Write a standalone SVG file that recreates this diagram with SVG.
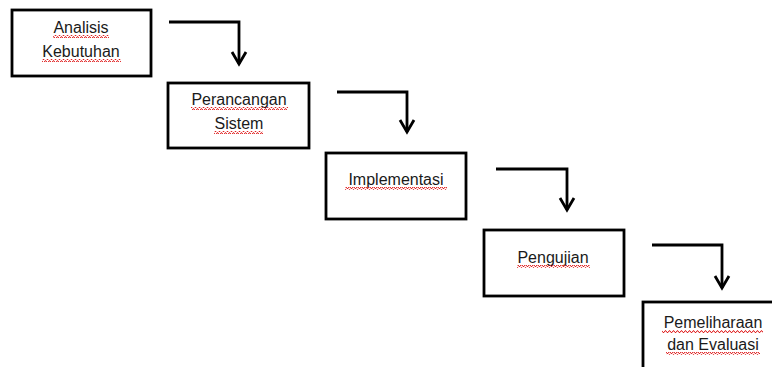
<svg xmlns="http://www.w3.org/2000/svg" width="772" height="367" viewBox="0 0 772 367">
<style>
.box{fill:#fff;stroke:#000;stroke-width:2.8}
.lbl{font-family:"Liberation Sans",Arial,sans-serif;font-size:16px;fill:#1a1a1a;text-anchor:middle}
.con{fill:none;stroke:#000;stroke-width:2.8;stroke-linejoin:miter}
.sq{fill:url(#squig)}
</style>
<defs>
<pattern id="squig" width="4" height="3" patternUnits="userSpaceOnUse">
<path d="M0,2.5 L1,0.8 L2,0.8 L3,2.5 L4,2.5" fill="none" stroke="#e02020" stroke-width="1"/>
</pattern>
<marker id="chev" markerUnits="userSpaceOnUse" markerWidth="20" markerHeight="20" refX="0" refY="0" orient="auto" overflow="visible">
<path d="M-12,-7 L0,0 L-12,7" fill="none" stroke="#000" stroke-width="2.8" stroke-linejoin="miter"/>
</marker>
</defs>
<rect width="772" height="367" fill="#fff"/>
<g id="connectors">
<path class="con" d="M169,22 H239 V64" marker-end="url(#chev)"/>
<path class="con" d="M337,92 H407 V132" marker-end="url(#chev)"/>
<path class="con" d="M496,169 H567 V210" marker-end="url(#chev)"/>
<path class="con" d="M652,245 H722 V288" marker-end="url(#chev)"/>
</g>
<g id="analisis">
<rect class="box" x="12" y="10" width="139" height="66"/>
<text class="lbl" x="81" y="33">Analisis</text>
<text class="lbl" x="81" y="57">Kebutuhan</text>
<rect class="sq" x="53" y="35" width="56" height="3"/>
<rect class="sq" x="42" y="59" width="79" height="3"/>
</g>
<g id="perancangan">
<rect class="box" x="168" y="83" width="141" height="65"/>
<text class="lbl" x="239" y="105">Perancangan</text>
<text class="lbl" x="239" y="129">Sistem</text>
<rect class="sq" x="191" y="107" width="97" height="3"/>
<rect class="sq" x="214" y="131" width="49" height="3"/>
</g>
<g id="implementasi">
<rect class="box" x="326" y="153" width="140" height="66"/>
<text class="lbl" x="396" y="185">Implementasi</text>
<rect class="sq" x="345" y="187" width="102" height="3"/>
</g>
<g id="pengujian">
<rect class="box" x="484" y="230" width="140" height="66"/>
<text class="lbl" x="553" y="263">Pengujian</text>
<rect class="sq" x="517" y="265" width="73" height="3"/>
</g>
<g id="pemeliharaan">
<rect class="box" x="643" y="302" width="145" height="80"/>
<text class="lbl" x="713" y="328">Pemeliharaan</text>
<text class="lbl" x="713" y="350">dan Evaluasi</text>
<rect class="sq" x="662" y="330" width="101" height="3"/>
<rect class="sq" x="666" y="352" width="94" height="3"/>
</g>
</svg>
